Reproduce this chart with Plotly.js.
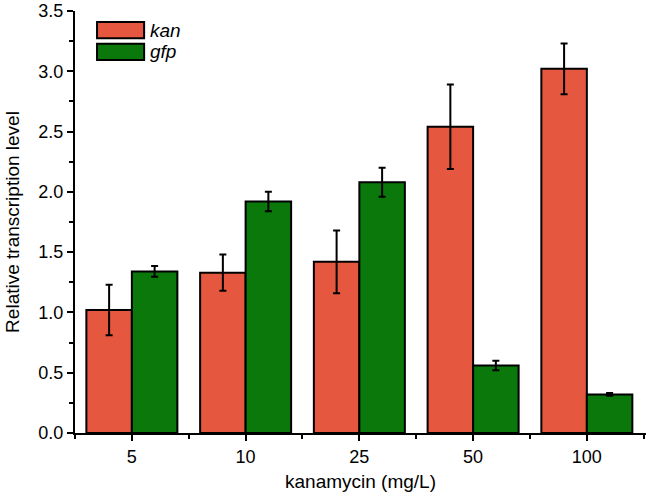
<!DOCTYPE html>
<html>
<head>
<meta charset="utf-8">
<script src="https://cdn.plot.ly/plotly-3.0.1.min.js"></script>
<style>
  html, body { margin: 0; padding: 0; background: #fff; }
  #chart { width: 650px; height: 496px; }
</style>
</head>
<body>
<div id="chart"></div>
<script>
// Data
const categories = ["5", "10", "25", "50", "100"];
const seriesNames = ["kan", "gfp"];
const kanValues = [1.02, 1.33, 1.42, 2.54, 3.02];
const kanErrors = [0.21, 0.15, 0.26, 0.35, 0.21];
const gfpValues = [1.34, 1.92, 2.08, 0.56, 0.32];
const gfpErrors = [0.045, 0.08, 0.12, 0.04, 0.012];
const yTickVals = [0, 0.5, 1.0, 1.5, 2.0, 2.5, 3.0, 3.5];

const kanColor = "#E5583F";
const gfpColor = "#0B780B";
const FONT = "Liberation Sans, Arial, sans-serif";

const xIdx = categories.map((c, i) => i);

const errStyle = (arr) => ({
  type: "data", array: arr, visible: true,
  color: "#000", thickness: 2, width: 3.5
});

const traces = [
  {
    type: "bar", name: seriesNames[0], x: xIdx, y: kanValues,
    marker: { color: kanColor, line: { color: "#000", width: 2 } },
    error_y: errStyle(kanErrors), showlegend: false
  },
  {
    type: "bar", name: seriesNames[1], x: xIdx, y: gfpValues,
    marker: { color: gfpColor, line: { color: "#000", width: 2 } },
    error_y: errStyle(gfpErrors), showlegend: false
  }
];

// Legend drawn as shapes + italic labels (matches the large swatches of the original)
const legendColors = [kanColor, gfpColor];
const H = 496, PW = 570, L = 75;
const shapes = [];
const annotations = [];
seriesNames.forEach((name, i) => {
  const top = 13 + i * 25.5;
  shapes.push({
    type: "rect", xref: "x domain", yref: "paper",
    x0: (97 - L) / PW, x1: (144 - L) / PW,
    y0: 1 - (top + 19) / H, y1: 1 - top / H,
    fillcolor: legendColors[i], line: { color: "#000", width: 2 }
  });
  annotations.push({
    xref: "x domain", yref: "paper",
    x: (148 - L) / PW, y: 1 - (top + 9.5) / H,
    xanchor: "left", yanchor: "middle", showarrow: false,
    text: "<i>" + name + "</i>",
    font: { family: FONT, size: 19, color: "#000" }
  });
});

const layout = {
  width: 650, height: 496,
  margin: { l: 75, r: 4, t: 11, b: 63, pad: 0 },
  paper_bgcolor: "#fff", plot_bgcolor: "#fff",
  barmode: "group", bargap: 0.2, bargroupgap: 0,
  font: { family: FONT, color: "#000" },
  xaxis: {
    range: [-0.5, 4.52],
    tickmode: "array", tickvals: xIdx, ticktext: categories,
    ticks: "outside", ticklen: 6, tickwidth: 2, tickcolor: "#000",
    showline: true, linecolor: "#000", linewidth: 2,
    showgrid: false, zeroline: false,
    tickfont: { family: FONT, size: 18, color: "#000" },
    minor: { tickmode: "linear", tick0: 0.5, dtick: 1, ticks: "outside", ticklen: 4, tickwidth: 2, tickcolor: "#000", showgrid: false },
    title: { text: "kanamycin (mg/L)", font: { family: FONT, size: 19, color: "#000" }, standoff: 9 }
  },
  yaxis: {
    range: [0, 3.5],
    tickmode: "array", tickvals: yTickVals, tickformat: ".1f",
    ticks: "outside", ticklen: 6, tickwidth: 2, tickcolor: "#000",
    showline: true, linecolor: "#000", linewidth: 2,
    showgrid: false, zeroline: false,
    tickfont: { family: FONT, size: 18, color: "#000" },
    minor: { tickmode: "linear", tick0: 0.25, dtick: 0.5, ticks: "outside", ticklen: 4, tickwidth: 2, tickcolor: "#000", showgrid: false },
    title: { text: "Relative transcription level", font: { family: FONT, size: 19, color: "#000" }, standoff: 14 }
  },
  shapes: shapes,
  annotations: annotations
};

Plotly.newPlot("chart", traces, layout, { displayModeBar: false, staticPlot: true });
</script>
</body>
</html>
